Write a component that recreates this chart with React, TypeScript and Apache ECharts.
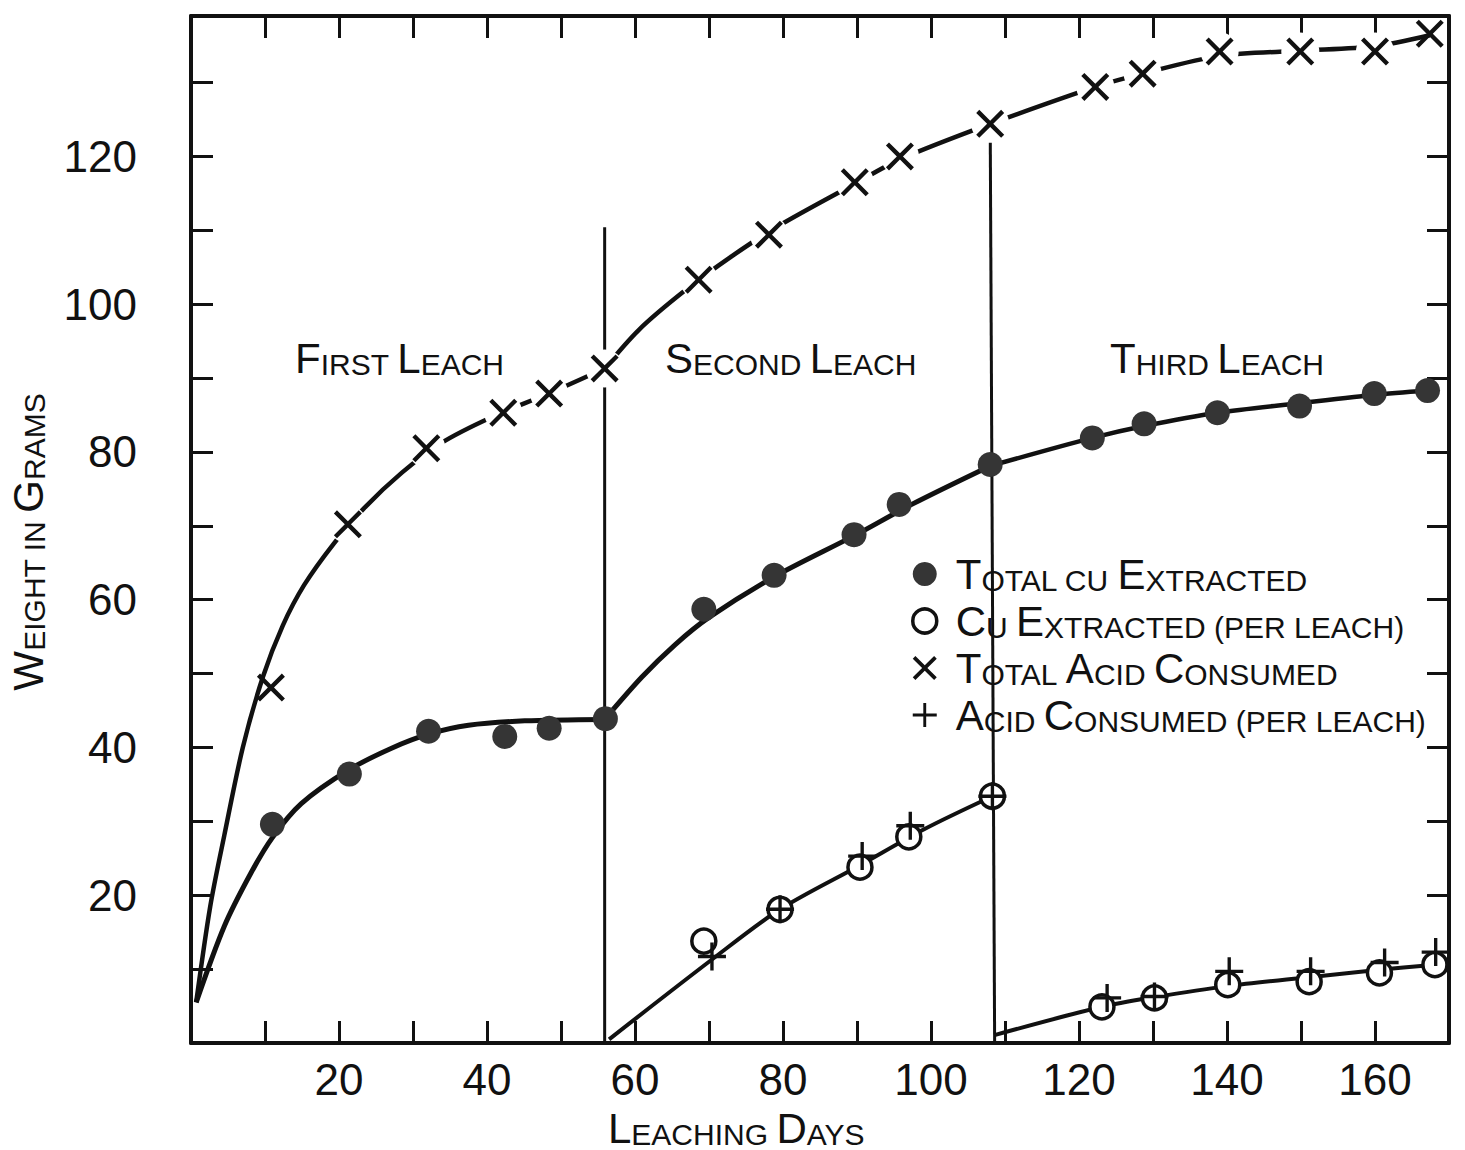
import React, { useEffect, useRef } from 'react';
import * as echarts from 'echarts';

// ---- Tick labels ----
const xTickLabels = [20, 40, 60, 80, 100, 120, 140, 160];
const yTickLabels = [20, 40, 60, 80, 100, 120];

const totalCuDays = [11.0, 21.4, 32.1, 42.4, 48.4, 56.0, 69.3, 78.8, 89.6, 95.7, 108.0, 121.8, 128.8, 138.7, 149.8, 159.9, 167.1];
const totalCuValues = [29.6, 36.4, 42.2, 41.5, 42.6, 43.9, 58.7, 63.3, 68.8, 72.9, 78.3, 81.9, 83.8, 85.3, 86.2, 87.9, 88.3];

const cuPerLeachDays = [69.3, 79.6, 90.4, 97.0, 108.3, 123.1, 130.2, 140.1, 151.1, 160.6, 168.1];
const cuPerLeachValues = [13.8, 18.1, 23.8, 27.9, 33.4, 4.9, 6.1, 7.9, 8.3, 9.5, 10.6];

const totalAcidDays = [10.8, 21.2, 31.8, 42.2, 48.4, 55.9, 68.6, 78.1, 89.7, 95.8, 108.0, 122.2, 128.6, 139.0, 149.9, 160.0, 167.4];
const totalAcidValues = [48.1, 70.2, 80.5, 85.3, 87.9, 91.3, 103.3, 109.4, 116.5, 120.0, 124.4, 129.4, 131.2, 134.2, 134.2, 134.2, 136.6];

const acidPerLeachDays = [70.4, 79.6, 90.7, 97.2, 108.3, 123.8, 130.2, 140.3, 151.3, 161.3, 168.2];
const acidPerLeachValues = [11.7, 18.1, 25.3, 29.4, 33.4, 6.1, 6.3, 9.7, 9.7, 10.9, 12.3];

// ---- Hand-drawn fitted curves ----
const acidCurveLeach1 = [[0.7, 5.5], [2.6, 18.5], [4.5, 28.1], [7.0, 40.0], [9.7, 49.5], [12.4, 56.5], [15.3, 62.0], [19.3, 67.6], [23.4, 72.4], [28.5, 77.2], [33.8, 81.2], [40.6, 84.7], [48.3, 87.9], [55.9, 91.3]];
const acidCurveLeach2 = [[55.9, 91.3], [60.5, 96.5], [66.7, 101.8], [73.1, 106.5], [79.4, 110.6], [89.7, 116.3], [95.8, 119.6], [108.0, 124.4]];
const acidCurveLeach3 = [[108.0, 124.4], [122.2, 129.4], [128.6, 131.2], [139.0, 133.6], [149.9, 134.3], [160.0, 134.9], [167.4, 136.4]];

const cuCurveLeach1 = [[0.7, 5.5], [4.5, 15.8], [8.1, 23.0], [11.0, 27.8], [14.9, 32.4], [21.2, 36.9], [27.1, 39.9], [32.1, 41.8], [37.5, 43.0], [45.1, 43.6], [55.9, 43.8]];
const cuCurveLeach2 = [[55.9, 43.8], [60.9, 49.5], [65.4, 53.9], [70.0, 57.6], [78.8, 63.1], [89.7, 68.7], [97.4, 72.9], [108.0, 78.1]];
const cuCurveLeach3 = [[108.0, 78.1], [121.8, 81.9], [128.8, 83.5], [138.7, 85.3], [149.8, 86.6], [159.9, 87.7], [167.1, 88.3]];

const perLeachCurve2 = [[56.5, 0.5], [70.4, 11.3], [79.6, 18.1], [90.3, 24.0], [99.2, 29.0], [108.3, 33.4]];
const perLeachCurve3 = [[108.7, 1.1], [123.1, 4.9], [130.2, 6.2], [140.1, 7.7], [151.1, 8.9], [160.6, 9.9], [168.1, 10.6]];

// ---- Leach boundaries ----
const leachDivider1 = [[55.9, 0], [55.9, 110.4]];
const leachDivider2 = [[108.6, 0], [108.0, 124.4]];

// ---- Styling ----
const INK = '#111111';
const DOT = '#353535';
const WORD_FONT = '"Liberation Sans", "DejaVu Sans", sans-serif';
const DIGIT_FONT = '"Liberation Sans Narrow", "Liberation Sans", sans-serif';
const X_PATH = 'path://M0,11L11,0L50,39L89,0L100,11L61,50L100,89L89,100L50,61L11,100L0,89L39,50Z';
const PLUS_PATH = 'path://M44,0L56,0L56,44L100,44L100,56L56,56L56,100L44,100L44,56L0,56L0,44L44,44Z';

const pairs = (xs: number[], ys: number[]) => xs.map((x, i) => [x, ys[i]]);

const richZr = {
  b: { fontSize: 42, fontFamily: WORD_FONT, fill: INK, verticalAlign: 'bottom' },
  s: { fontSize: 30, fontFamily: WORD_FONT, fill: INK, verticalAlign: 'bottom' },
};
const richEc = {
  b: { fontSize: 42, fontFamily: WORD_FONT, color: INK, verticalAlign: 'bottom' },
  s: { fontSize: 30, fontFamily: WORD_FONT, color: INK, verticalAlign: 'bottom' },
};

const legendText: Record<string, string> = {
  'Total cu Extracted': '{b|T}{s|OTAL CU} {b|E}{s|XTRACTED}',
  'Cu Extracted (per leach)': '{b|C}{s|U} {b|E}{s|XTRACTED (PER LEACH)}',
  'Total Acid Consumed': '{b|T}{s|OTAL} {b|A}{s|CID} {b|C}{s|ONSUMED}',
  'Acid Consumed (per leach)': '{b|A}{s|CID} {b|C}{s|ONSUMED (PER LEACH)}',
};

function curve(name: string, data: number[][], width: number, smooth: number) {
  return {
    type: 'line', name, data, symbol: 'none', showSymbol: false, smooth,
    lineStyle: { color: INK, width }, silent: true, z: 2,
  };
}

function textEl(text: string, x: number, y: number, rotation = 0) {
  return {
    type: 'text', x, y, rotation, z: 10,
    style: {
      text, rich: richZr, fill: INK, fontSize: 30, fontFamily: WORD_FONT,
      textAlign: rotation ? 'center' : 'left', align: rotation ? 'center' : 'left',
      textVerticalAlign: 'middle', verticalAlign: 'middle',
    },
  };
}

function buildOption() {
  const axisLine = { show: true, onZero: false, lineStyle: { color: INK, width: 4 } };
  const axisTick = { show: true, inside: true, length: 22, lineStyle: { color: INK, width: 3 } };
  return {
    animation: false,
    backgroundColor: '#ffffff',
    grid: { left: 191, top: 16, right: 16, bottom: 107, containLabel: false },
    xAxis: [
      {
        type: 'value', min: 0, max: 170, interval: 10, position: 'bottom',
        axisLine, axisTick, splitLine: { show: false },
        axisLabel: {
          show: true, margin: 14, fontSize: 44, fontFamily: DIGIT_FONT, color: INK,
          formatter: (v: number) => (xTickLabels.includes(v) ? String(v) : ''),
        },
      },
      {
        type: 'value', min: 0, max: 170, interval: 10, position: 'top',
        axisLine, axisTick, splitLine: { show: false }, axisLabel: { show: false },
      },
    ],
    yAxis: [
      {
        type: 'value', min: 0, max: 139, interval: 10, position: 'left',
        axisLine, axisTick, splitLine: { show: false },
        axisLabel: {
          show: true, margin: 54, fontSize: 44, fontFamily: DIGIT_FONT, color: INK,
          formatter: (v: number) => (yTickLabels.includes(v) ? String(v) : ''),
        },
      },
      {
        type: 'value', min: 0, max: 139, interval: 10, position: 'right',
        axisLine, axisTick, splitLine: { show: false }, axisLabel: { show: false },
      },
    ],
    legend: {
      orient: 'vertical', left: 906, top: 548, itemWidth: 24, itemHeight: 24, itemGap: 5,
      selectedMode: false, align: 'left',
      data: [
        { name: 'Total cu Extracted', icon: 'circle', itemStyle: { color: DOT, borderWidth: 0, opacity: 1 } },
        { name: 'Cu Extracted (per leach)', icon: 'circle', itemStyle: { color: '#ffffff', borderColor: INK, borderWidth: 3.5, opacity: 1 } },
        { name: 'Total Acid Consumed', icon: X_PATH, itemStyle: { color: INK, borderWidth: 0, opacity: 1 } },
        { name: 'Acid Consumed (per leach)', icon: PLUS_PATH, itemStyle: { color: INK, borderWidth: 0, opacity: 1 } },
      ],
      formatter: (name: string) => legendText[name] || name,
      textStyle: { color: INK, fontSize: 30, fontFamily: WORD_FONT, padding: [0, 0, 0, 14], rich: richEc },
    },
    graphic: [
      textEl('{b|F}{s|IRST} {b|L}{s|EACH}', 295, 358),
      textEl('{b|S}{s|ECOND} {b|L}{s|EACH}', 665, 358),
      textEl('{b|T}{s|HIRD} {b|L}{s|EACH}', 1110, 358),
      textEl('{b|L}{s|EACHING} {b|D}{s|AYS}', 608, 1128),
      textEl('{b|W}{s|EIGHT IN} {b|G}{s|RAMS}', 28, 542, Math.PI / 2),
    ],
    series: [
      curve('divider-1', leachDivider1, 3, 0),
      curve('divider-2', leachDivider2, 3, 0),
      curve('acid-curve-1', acidCurveLeach1, 4.5, 0.3),
      curve('acid-curve-2', acidCurveLeach2, 4.5, 0.3),
      curve('acid-curve-3', acidCurveLeach3, 4.5, 0.3),
      curve('cu-curve-1', cuCurveLeach1, 5, 0.3),
      curve('cu-curve-2', cuCurveLeach2, 5, 0.3),
      curve('cu-curve-3', cuCurveLeach3, 4.5, 0.3),
      curve('per-leach-curve-2', perLeachCurve2, 4, 0.3),
      curve('per-leach-curve-3', perLeachCurve3, 4, 0.3),
      {
        type: 'scatter', name: 'acid-gap', data: pairs(totalAcidDays, totalAcidValues).slice(1, -1),
        symbol: 'circle', symbolSize: 38, itemStyle: { color: '#ffffff', opacity: 1 }, silent: true, z: 3,
      },
      {
        type: 'scatter', name: 'Total Acid Consumed', data: pairs(totalAcidDays, totalAcidValues),
        symbol: X_PATH, symbolSize: 28, itemStyle: { color: INK, opacity: 1 }, z: 4,
      },
      {
        type: 'scatter', name: 'Total cu Extracted', data: pairs(totalCuDays, totalCuValues),
        symbol: 'circle', symbolSize: 25, itemStyle: { color: DOT, opacity: 1 }, z: 4,
      },
      {
        type: 'scatter', name: 'Cu Extracted (per leach)', data: pairs(cuPerLeachDays, cuPerLeachValues),
        symbol: 'circle', symbolSize: 24, itemStyle: { color: '#ffffff', borderColor: INK, borderWidth: 3.5, opacity: 1 }, z: 4,
      },
      {
        type: 'scatter', name: 'Acid Consumed (per leach)', data: pairs(acidPerLeachDays, acidPerLeachValues),
        symbol: PLUS_PATH, symbolSize: 28, itemStyle: { color: INK, opacity: 1 }, z: 5,
      },
    ],
  };
}

export default function App() {
  const ref = useRef<HTMLDivElement>(null);
  useEffect(() => {
    document.body.style.margin = '0';
    const chart = echarts.init(ref.current!, null, { renderer: 'svg' });
    chart.setOption(buildOption() as any);
    return () => chart.dispose();
  }, []);
  return <div ref={ref} style={{ width: 1465, height: 1150, background: '#ffffff' }} />;
}
